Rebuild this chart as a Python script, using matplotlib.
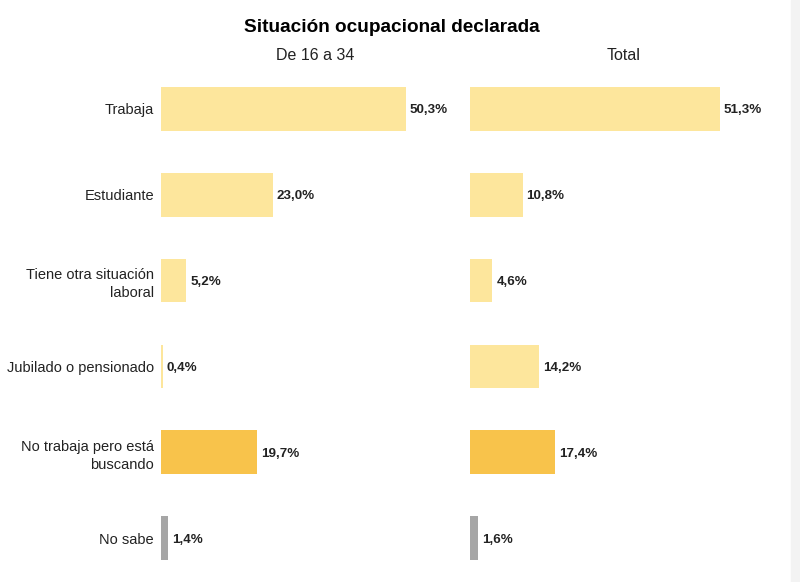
import matplotlib.pyplot as plt
from matplotlib.patches import Rectangle

categories = ['Trabaja', 'Estudiante', 'Tiene otra situación\nlaboral',
              'Jubilado o pensionado', 'No trabaja pero está\nbuscando', 'No sabe']
joven = [50.3, 23.0, 5.2, 0.4, 19.7, 1.4]
total = [51.3, 10.8, 4.6, 14.2, 17.4, 1.6]
labels_joven = ['50,3%', '23,0%', '5,2%', '0,4%', '19,7%', '1,4%']
labels_total = ['51,3%', '10,8%', '4,6%', '14,2%', '17,4%', '1,6%']
colors = ['#fde69c', '#fde69c', '#fde69c', '#fde69c', '#f8c34b', '#a6a6a6']

plt.rcParams['font.family'] = ['Liberation Sans', 'DejaVu Sans']

W, H = 800, 582
fig = plt.figure(figsize=(8, 5.82), dpi=100)

# scrollbar strip at the right edge
fig.patches.append(Rectangle((791 / W, 0), 9 / W, 1, transform=fig.transFigure,
                             color='#f3f3f3', zorder=0))

fig.text(392 / W, 1 - 27 / H, 'Situación ocupacional declarada',
         ha='center', va='center', fontsize=13.7, fontweight='bold')

panels = [(161, 'De 16 a 34', joven, labels_joven),
          (470, 'Total', total, labels_total)]
y = list(range(len(categories)))

for i, (left, name, vals, labs) in enumerate(panels):
    ax = fig.add_axes([left / W, 1 - 581 / H, 308 / W, (581 - 66) / H])
    ax.barh(y, vals, height=0.51, color=colors)
    ax.set_xlim(0, 63.2)
    ax.set_ylim(len(categories) - 0.5, -0.5)
    for yy, v, t in zip(y, vals, labs):
        ax.text(v + 0.8, yy, t, va='center_baseline', ha='left', fontsize=9.6,
                fontweight='bold', color='#222222')
    ax.set_xticks([])
    if i == 0:
        ax.set_yticks(y)
        ax.set_yticklabels(categories, fontsize=10.5, color='#222222',
                           linespacing=1.4)
        ax.tick_params(axis='y', length=0, pad=5)
    else:
        ax.set_yticks([])
    for s in ax.spines.values():
        s.set_visible(False)
    fig.text((left + 154) / W, 1 - 56 / H, name, ha='center', va='center',
             fontsize=11.5, color='#222222')

fig.savefig('out.png', dpi=100)
